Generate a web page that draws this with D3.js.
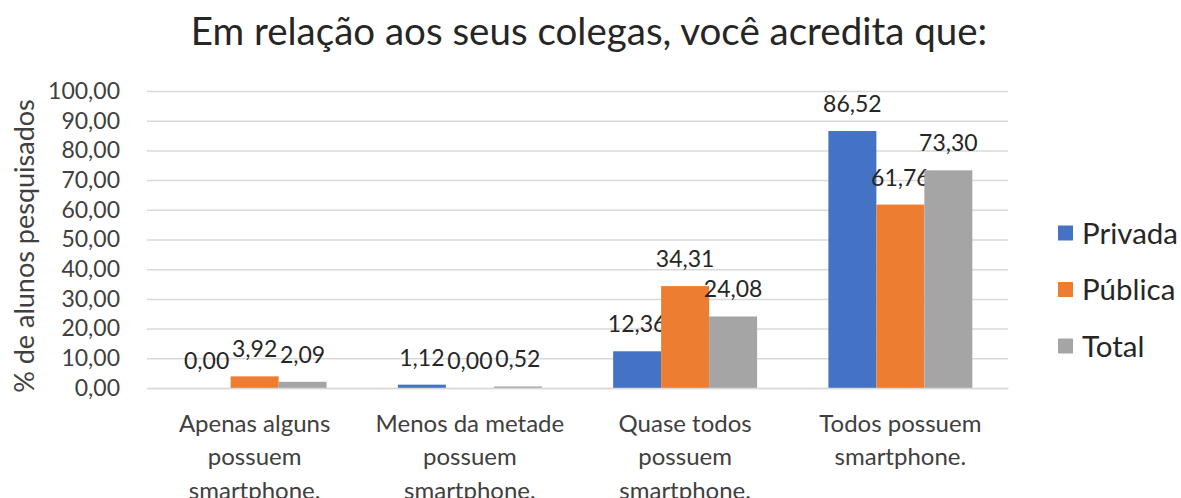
<!DOCTYPE html>
<html>
<head>
<meta charset="utf-8">
<script src="https://cdn.jsdelivr.net/npm/d3@7"></script>
<style>
  body { margin: 0; background: #fff; }
  svg text { font-family: Lato, "Open Sans", sans-serif; }
</style>
</head>
<body>
<div id="chart"></div>
<script>
const title = 'Em relação aos seus colegas, você acredita que:'
const yTitle = '% de alunos pesquisados'
const categories = [
    ['Apenas alguns', 'possuem', 'smartphone.'],
    ['Menos da metade', 'possuem', 'smartphone.'],
    ['Quase todos', 'possuem', 'smartphone.'],
    ['Todos possuem', 'smartphone.']
]
const series = ['Privada', 'Pública', 'Total']
const privada = [0.00, 1.12, 12.36, 86.52]
const publica = [3.92, 0.00, 34.31, 61.76]
const total = [2.09, 0.52, 24.08, 73.30]
const yTicks = [0, 10, 20, 30, 40, 50, 60, 70, 80, 90, 100]
const colors = ['#4472c4', '#ed7d31', '#a5a5a5']

const W = 1181, H = 498
const plotLeft = 147, plotRight = 1008, plotTop = 91, plotBottom = 388

const values = [privada, publica, total]
const loc = d3.formatLocale({ decimal: ',', thousands: '.', grouping: [3], currency: ['', ''] })
const fmt = loc.format('.2f')

const svg = d3.select('#chart').append('svg')
    .attr('width', W)
    .attr('height', H)

const x = d3.scaleBand()
    .domain(d3.range(categories.length))
    .range([plotLeft, plotRight])
    .padding(0)

const xs = d3.scaleBand()
    .domain(d3.range(series.length))
    .range([0, x.bandwidth()])
    .paddingInner(0)
    .paddingOuter(0.743)

const y = d3.scaleLinear()
    .domain([0, 100])
    .range([plotBottom, plotTop])

// grid + y labels
const yAxis = svg.append('g')
    .attr('transform', `translate(${plotLeft},0)`)
    .call(d3.axisLeft(y).tickValues(yTicks).tickSize(-(plotRight - plotLeft)).tickPadding(27).tickFormat(fmt))
yAxis.select('.domain').remove()
yAxis.selectAll('line').attr('stroke', '#d9d9d9').attr('stroke-width', 1.5)
yAxis.selectAll('text')
    .attr('fill', '#404040')
    .attr('font-size', '23px')

// bars
series.forEach((s, si) => {
    svg.append('g')
        .selectAll('rect')
        .data(values[si])
        .join('rect')
        .attr('x', (d, i) => x(i) + xs(si))
        .attr('width', xs.bandwidth())
        .attr('y', d => y(d))
        .attr('height', d => y(0) - y(d))
        .attr('fill', colors[si])

    svg.append('g')
        .selectAll('text')
        .data(values[si])
        .join('text')
        .attr('x', (d, i) => x(i) + xs(si) + xs.bandwidth() / 2)
        .attr('y', d => y(d) - 19)
        .attr('text-anchor', 'middle')
        .attr('fill', '#262626')
        .attr('font-size', '23px')
        .text(d => fmt(d))
})

// x axis baseline + category labels
const xAxis = svg.append('g')
    .attr('transform', `translate(0,${plotBottom})`)
    .call(d3.axisBottom(x).tickSize(0).tickFormat(''))
xAxis.select('.domain').attr('stroke', '#d9d9d9').attr('stroke-width', 1.5)

const catLabels = svg.append('g')
    .selectAll('text')
    .data(categories)
    .join('text')
    .attr('text-anchor', 'middle')
    .attr('fill', '#404040')
    .attr('font-size', '24px')
catLabels.selectAll('tspan')
    .data((d, i) => d.map(line => ({ line, i })))
    .join('tspan')
    .attr('x', d => x(d.i) + x.bandwidth() / 2)
    .attr('y', (d, j) => plotBottom + 44 + j * 33.3)
    .text(d => d.line)

// y title
svg.append('text')
    .attr('transform', `translate(34,246) rotate(-90)`)
    .attr('text-anchor', 'middle')
    .attr('fill', '#404040')
    .attr('font-size', '27px')
    .text(yTitle)

// title
svg.append('text')
    .attr('x', 589)
    .attr('y', 45)
    .attr('text-anchor', 'middle')
    .attr('fill', '#262626')
    .attr('font-size', '38.5px')
    .text(title)

// legend
const legendY = d3.scalePoint()
    .domain(series)
    .range([233, 346])

const legend = svg.append('g')
    .selectAll('g')
    .data(series)
    .join('g')
    .attr('transform', d => `translate(1058,${legendY(d)})`)
legend.append('rect')
    .attr('x', 0)
    .attr('y', -7.5)
    .attr('width', 15)
    .attr('height', 15)
    .attr('fill', (d, i) => colors[i])
legend.append('text')
    .attr('x', 24)
    .attr('dy', '0.36em')
    .attr('fill', '#262626')
    .attr('font-size', '29.5px')
    .text(d => d)
</script>
</body>
</html>
